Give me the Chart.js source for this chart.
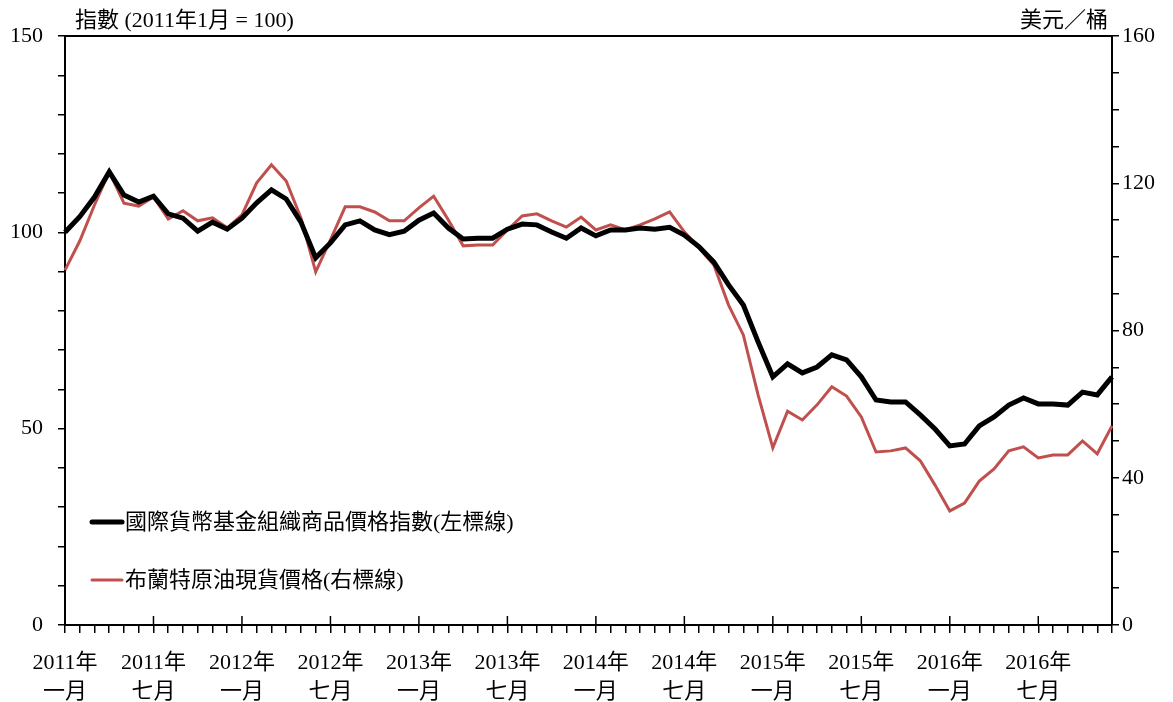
<!DOCTYPE html>
<html>
<head>
<meta charset="utf-8">
<script src="https://cdn.jsdelivr.net/npm/chart.js@4"></script>
<style>
  html, body { margin: 0; padding: 0; background: #fff; }
  #wrap { width: 1173px; height: 702px; }
</style>
</head>
<body>
<div id="wrap"><canvas id="chart"></canvas></div>
<script>
// 2011年1月 至 2016年12月，每月一點
const years = ['2011', '2012', '2013', '2014', '2015', '2016'];
const monthNames = ['一月', '二月', '三月', '四月', '五月', '六月', '七月', '八月', '九月', '十月', '十一月', '十二月'];

// 國際貨幣基金組織商品價格指數 (左標線)
const imfIndex = [
  100, 104, 109, 115.4, 109.5, 107.7, 109.2, 104.7, 103.6, 100.3, 102.6, 100.8,
  103.6, 107.5, 110.8, 108.5, 102.6, 93.5, 97.3, 101.9, 102.9, 100.6, 99.4, 100.3,
  103.1, 104.9, 101.1, 98.3, 98.5, 98.5, 100.8, 102.1, 101.9, 100.1, 98.5, 101.1,
  99.1, 100.6, 100.6, 101.1, 100.8, 101.3, 99.3, 96.3, 92.4, 86.6, 81.5, 72.1,
  63.2, 66.5, 64.2, 65.7, 68.8, 67.5, 63.2, 57.3, 56.8, 56.8, 53.5, 49.9,
  45.6, 46.1, 50.7, 53, 56, 57.8, 56.3, 56.3, 56, 59.3, 58.6, 63.2
];

// 布蘭特原油現貨價格 (右標線，美元／桶)
const brent = [
  96.4, 104.3, 114.1, 123.1, 114.6, 113.8, 116.3, 110.3, 112.5, 109.8, 110.6, 107.9,
  111.4, 120.1, 125, 120.6, 110.6, 95.9, 104.6, 113.6, 113.6, 112.2, 109.8, 109.8,
  113.3, 116.5, 110, 103, 103.2, 103.2, 107.3, 111.1, 111.7, 109.8, 108.1, 110.8,
  107.3, 108.7, 107.3, 108.7, 110.3, 112.2, 106.8, 102.4, 97.8, 86.9, 78.8, 62.5,
  48.1, 58.1, 55.7, 59.8, 64.7, 62.2, 56.5, 47, 47.3, 48.1, 44.6, 38,
  31, 33.1, 39.1, 42.4, 47.3, 48.4, 45.4, 46.2, 46.2, 50, 46.5, 54.1
];

const months = [];
years.forEach(y => monthNames.forEach(m => months.push([y + '年', m])));

const leftTitle = '指數 (2011年1月 = 100)';
const rightTitle = '美元／桶';
const legendNames = ['國際貨幣基金組織商品價格指數(左標線)', '布蘭特原油現貨價格(右標線)'];

const FONT = '"Liberation Serif", "Noto Sans CJK TC", serif';

const decor = {
  id: 'decor',
  afterDraw(chart) {
    const { ctx, chartArea: a, scales } = chart;
    ctx.save();
    // 上框線
    ctx.strokeStyle = '#000';
    ctx.lineWidth = 2;
    ctx.beginPath();
    ctx.moveTo(a.left, a.top);
    ctx.lineTo(a.right, a.top);
    ctx.stroke();
    // 主刻度向內延伸
    ctx.lineWidth = 1.5;
    months.forEach((m, i) => {
      if (i % 6 !== 0) return;
      const x = scales.x.getPixelForValue(i);
      ctx.beginPath();
      ctx.moveTo(x, a.bottom);
      ctx.lineTo(x, a.bottom - 9);
      ctx.stroke();
    });
    // 軸標題
    ctx.fillStyle = '#000';
    ctx.font = '22px ' + FONT;
    ctx.textBaseline = 'alphabetic';
    ctx.textAlign = 'left';
    ctx.fillText(leftTitle, 75, 27);
    ctx.textAlign = 'right';
    ctx.fillText(rightTitle, 1108, 27);
    // 圖例
    const items = [
      { y: 522, color: '#000', w: 5 },
      { y: 580, color: '#C0504D', w: 3 }
    ];
    ctx.textAlign = 'left';
    ctx.textBaseline = 'middle';
    items.forEach((it, i) => {
      ctx.strokeStyle = it.color;
      ctx.lineWidth = it.w;
      ctx.lineCap = 'round';
      ctx.beginPath();
      ctx.moveTo(92, it.y);
      ctx.lineTo(122, it.y);
      ctx.stroke();
      ctx.fillStyle = '#000';
      ctx.fillText(legendNames[i], 125, it.y + 1);
    });
    ctx.restore();
  }
};

new Chart(document.getElementById('chart'), {
  type: 'line',
  data: {
    labels: months,
    datasets: [
      {
        label: legendNames[0],
        data: imfIndex,
        yAxisID: 'y',
        borderColor: '#000',
        borderWidth: 5,
        pointRadius: 0,
        tension: 0
      },
      {
        label: legendNames[1],
        data: brent,
        yAxisID: 'y1',
        borderColor: '#C0504D',
        borderWidth: 3,
        pointRadius: 0,
        tension: 0
      }
    ]
  },
  options: {
    responsive: true,
    maintainAspectRatio: false,
    animation: false,
    layout: { padding: { top: 36, left: 0, right: 0, bottom: 0 } },
    plugins: {
      legend: { display: false },
      tooltip: { enabled: false }
    },
    scales: {
      x: {
        offset: false,
        afterFit: s => { s.height = 77; },
        grid: { drawOnChartArea: false, offset: false, tickLength: 8, color: '#000', lineWidth: 1.5 },
        border: { color: '#000', width: 2 },
        ticks: {
          autoSkip: false,
          maxRotation: 0,
          padding: 16,
          color: '#000',
          font: { family: FONT, size: 22, lineHeight: 1.3 },
          callback: (v, i) => (i % 6 === 0 ? months[i] : '')
        }
      },
      y: {
        position: 'left',
        min: 0,
        max: 150,
        afterFit: s => { s.width = 65; },
        grid: { drawOnChartArea: false, tickLength: 7, color: '#000', lineWidth: 1.5 },
        border: { color: '#000', width: 2 },
        ticks: {
          stepSize: 10,
          padding: 15,
          color: '#000',
          font: { family: FONT, size: 22 },
          callback: v => (v % 50 === 0 ? v : '')
        }
      },
      y1: {
        position: 'right',
        min: 0,
        max: 160,
        afterFit: s => { s.width = 61; },
        grid: { drawOnChartArea: false, tickLength: 7, color: '#000', lineWidth: 1.5 },
        border: { color: '#000', width: 2 },
        ticks: {
          stepSize: 10,
          padding: 3,
          color: '#000',
          font: { family: FONT, size: 22 },
          callback: v => (v % 40 === 0 ? v : '')
        }
      }
    }
  },
  plugins: [decor]
});
</script>
</body>
</html>
